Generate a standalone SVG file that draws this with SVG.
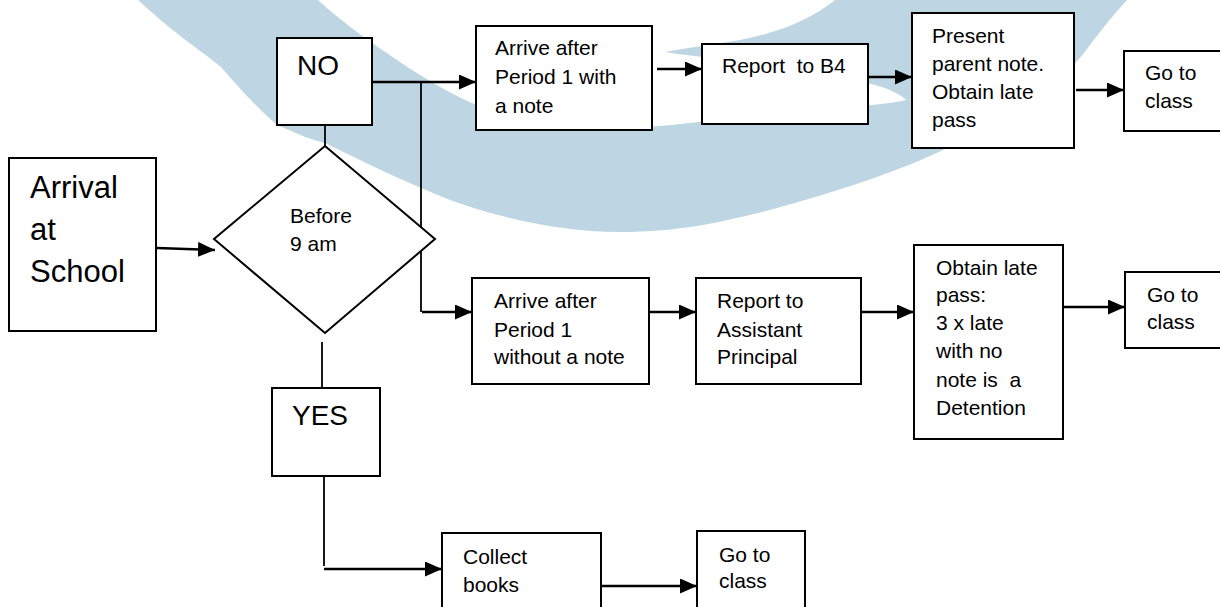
<svg xmlns="http://www.w3.org/2000/svg" width="1220" height="607" viewBox="0 0 1220 607">
<style>
.box{fill:#fff;stroke:#000;stroke-width:2}
.t{font-family:"Liberation Sans",Arial,sans-serif;font-size:21px;fill:#000;white-space:pre}
.big{font-family:"Liberation Sans",Arial,sans-serif;font-size:28px;fill:#000}
.arr{fill:none;stroke:#000;stroke-width:2.6;marker-end:url(#ah)}
.thin{fill:none;stroke:#000;stroke-width:1.8}
</style>
<defs>
<marker id="ah" markerUnits="userSpaceOnUse" markerWidth="18" markerHeight="16" refX="17" refY="7.5" orient="auto">
<path d="M0,0 L17,7.5 L0,15 z" fill="#000"/>
</marker>
</defs>
<rect width="1220" height="607" fill="#fff"/>
<g id="watermark">
<path fill="#bed6e3" d="M138,0 C170,30 200,50 221,67 C245,95 262,112 277,125 C300,135 312,140 325,143 C360,160 400,180 450,200 C500,218 560,232 620,232 C680,232 720,222 758,213 C800,202 840,190 877,177 C910,165 935,155 956,143 C990,125 1015,112 1035,97 C1060,80 1080,60 1090,45 C1105,25 1118,10 1127,0 L835,0 C810,20 780,32 740,40 C710,45 685,48 665,52 C690,56 730,60 770,65 C820,72 860,80 885,88 C895,92 902,96 906,100 C890,104 860,106 820,110 C770,114 720,120 660,126 C600,130 540,128 495,112 C460,100 430,82 400,62 C375,45 345,25 318,0 Z"/>
</g>
<g id="connectors">
<line class="arr" x1="157" y1="248" x2="215" y2="250"/>
<line class="thin" x1="325" y1="125" x2="325" y2="146"/>
<line class="arr" x1="372" y1="82" x2="476" y2="82"/>
<line class="thin" x1="421" y1="82" x2="421" y2="312"/>
<line class="arr" x1="422" y1="312" x2="472" y2="312"/>
<line class="arr" x1="657" y1="69" x2="702" y2="69"/>
<line class="arr" x1="869" y1="77" x2="912" y2="77"/>
<line class="arr" x1="1076" y1="90" x2="1124" y2="90"/>
<line class="arr" x1="650" y1="312" x2="696" y2="312"/>
<line class="arr" x1="862" y1="312" x2="914" y2="312"/>
<line class="arr" x1="1060" y1="307" x2="1125" y2="307"/>
<line class="thin" x1="322" y1="342" x2="322" y2="388"/>
<line class="thin" x1="324" y1="476" x2="324" y2="566"/>
<line class="arr" x1="324" y1="569" x2="442" y2="569"/>
<line class="arr" x1="602" y1="586" x2="697" y2="586"/>
</g>
<g id="arrival">
<rect class="box" x="9" y="158" width="147" height="173"/>
<text class="big" style="font-size:31px" x="30" y="198">Arrival</text>
<text class="big" style="font-size:31px" x="30" y="240">at</text>
<text class="big" style="font-size:31px" x="30" y="282">School</text>
</g>
<g id="no">
<rect class="box" x="277" y="38" width="95" height="87"/>
<text class="big" x="297" y="75">NO</text>
</g>
<g id="decision">
<polygon class="box" points="325,146 435,239 325,333 214,239"/>
<text class="t" x="290" y="223">Before</text>
<text class="t" x="290" y="251">9 am</text>
</g>
<g id="yes">
<rect class="box" x="272" y="388" width="108" height="88"/>
<text class="big" x="292" y="425">YES</text>
</g>
<g id="arrive-note">
<rect class="box" x="476" y="26" width="176" height="104"/>
<text class="t" x="495" y="55">Arrive after</text>
<text class="t" x="495" y="84">Period 1 with</text>
<text class="t" x="495" y="113">a note</text>
</g>
<g id="report-b4">
<rect class="box" x="702" y="44" width="166" height="80"/>
<text class="t" x="722" y="73">Report  to B4</text>
</g>
<g id="present">
<rect class="box" x="912" y="13" width="162" height="135"/>
<text class="t" x="932" y="43">Present</text>
<text class="t" x="932" y="71">parent note.</text>
<text class="t" x="932" y="99">Obtain late</text>
<text class="t" x="932" y="127">pass</text>
</g>
<g id="go-class-1">
<rect class="box" x="1124" y="51" width="100" height="80"/>
<text class="t" x="1145" y="80">Go to</text>
<text class="t" x="1145" y="108">class</text>
</g>
<g id="arrive-no-note">
<rect class="box" x="472" y="278" width="177" height="106"/>
<text class="t" x="494" y="308">Arrive after</text>
<text class="t" x="494" y="337">Period 1</text>
<text class="t" x="494" y="364">without a note</text>
</g>
<g id="report-ap">
<rect class="box" x="696" y="278" width="165" height="106"/>
<text class="t" x="717" y="308">Report to</text>
<text class="t" x="717" y="337">Assistant</text>
<text class="t" x="717" y="364">Principal</text>
</g>
<g id="obtain">
<rect class="box" x="914" y="245" width="149" height="194"/>
<text class="t" x="936" y="275">Obtain late</text>
<text class="t" x="936" y="302">pass:</text>
<text class="t" x="936" y="330">3 x late</text>
<text class="t" x="936" y="358">with no</text>
<text class="t" x="936" y="387">note is  a</text>
<text class="t" x="936" y="415">Detention</text>
</g>
<g id="go-class-2">
<rect class="box" x="1125" y="272" width="100" height="76"/>
<text class="t" x="1147" y="302">Go to</text>
<text class="t" x="1147" y="329">class</text>
</g>
<g id="collect">
<rect class="box" x="442" y="533" width="159" height="80"/>
<text class="t" x="463" y="564">Collect</text>
<text class="t" x="463" y="592">books</text>
</g>
<g id="go-class-3">
<rect class="box" x="697" y="531" width="108" height="82"/>
<text class="t" x="719" y="562">Go to</text>
<text class="t" x="719" y="588">class</text>
</g>
</svg>
